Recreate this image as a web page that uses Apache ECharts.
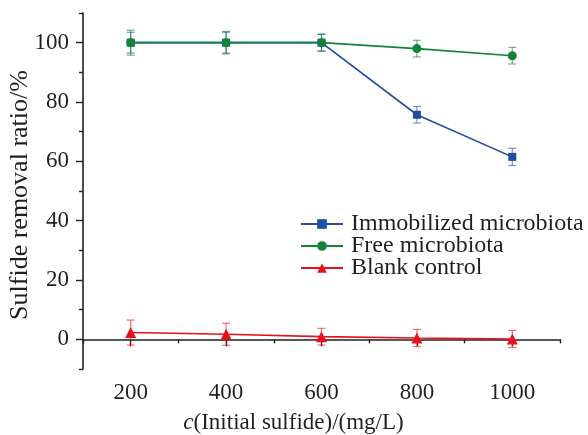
<!DOCTYPE html>
<html>
<head>
<meta charset="utf-8">
<script src="https://cdn.jsdelivr.net/npm/echarts@6/dist/echarts.min.js"></script>
<style>
    html, body { margin: 0; padding: 0; background: #fff; }
    #chart { width: 588px; height: 435px; }
</style>
</head>
<body>
<div id="chart"></div>
<script>
    // initial sulfide concentration (mg/L)
    var concentrations = [200, 400, 600, 800, 1000];
    var immobilized = [100, 100, 100, 75.7, 61.5];
    var immobilizedErr = [3.5, 3.5, 2.8, 2.8, 2.9];
    var free = [100, 100, 100, 98, 95.6];
    var freeErr = [4.2, 3.8, 2.9, 2.8, 2.8];
    var blank = [2.3, 1.7, 0.9, 0.45, 0.1];
    var blankErr = [4.2, 3.7, 2.8, 2.9, 2.9];

    var xMajor = [200, 400, 600, 800, 1000];
    var xMinor = [100, 300, 500, 700, 900, 1100];
    var yMajor = [0, 20, 40, 60, 80, 100];
    var yMinor = [-10, 10, 30, 50, 70, 90, 110];

    var FONT = '"Liberation Serif", "DejaVu Serif", serif';
    var INK = '#231f20';

    function pairs(ys) {
        return concentrations.map(function (x, i) { return [x, ys[i]]; });
    }
    function errData(ys, es) {
        return concentrations.map(function (x, i) { return [x, ys[i], es[i]]; });
    }

    // vertical error bar with caps
    function errorBar(color) {
        return function (params, api) {
            var x = api.value(0), y = api.value(1), e = api.value(2);
            var hi = api.coord([x, y + e]);
            var lo = api.coord([x, y - e]);
            var cap = 4;
            var style = { stroke: color, lineWidth: 1.2, opacity: 0.6 };
            return {
                type: 'group',
                children: [
                    { type: 'line', shape: { x1: hi[0], y1: hi[1], x2: lo[0], y2: lo[1] }, style: style },
                    { type: 'line', shape: { x1: hi[0] - cap, y1: hi[1], x2: hi[0] + cap, y2: hi[1] }, style: style },
                    { type: 'line', shape: { x1: lo[0] - cap, y1: lo[1], x2: lo[0] + cap, y2: lo[1] }, style: style }
                ]
            };
        };
    }

    var blue = '#1f4ea0', green = '#13823a', red = '#e8101c';

    var chart = echarts.init(document.getElementById('chart'));
    var axisLine = { show: true, lineStyle: { color: INK, width: 1.6 } };
    var plain = function (v) { return String(v); };

    var option = {
        animation: false,
        textStyle: { fontFamily: FONT },
        grid: { left: 83, right: 28, top: 13, bottom: 66, containLabel: false, outerBoundsMode: 'none' },
        legend: {
            left: 300,
            top: 212,
            padding: 0,
            orient: 'vertical',
            itemWidth: 42,
            itemHeight: 12,
            itemGap: -2,
            data: ['Immobilized microbiota', 'Free microbiota', 'Blank control'],
            textStyle: { fontFamily: FONT, fontSize: 24, lineHeight: 22, color: INK, padding: [0, 0, 0, 3] }
        },
        xAxis: [
            {
                type: 'value', min: 100, max: 1100, interval: 100,
                name: '{i|c}(Initial sulfide)/(mg/L)',
                nameLocation: 'middle', nameGap: 42, nameMoveOverlap: false,
                nameTextStyle: {
                    fontFamily: FONT, fontSize: 23, color: INK, padding: [0, 56, 0, 0],
                    rich: { i: { fontFamily: FONT, fontSize: 23, fontStyle: 'italic', color: INK } }
                },
                axisLine: axisLine,
                axisTick: { show: true, length: 7, customValues: xMajor, lineStyle: { color: INK, width: 1.4 } },
                axisLabel: { customValues: xMajor, formatter: plain, margin: 12, fontFamily: FONT, fontSize: 23, color: INK },
                splitLine: { show: false }
            },
            {
                type: 'value', min: 100, max: 1100, interval: 100, position: 'bottom',
                axisLine: { show: false },
                axisTick: { show: true, length: 4, customValues: xMinor, lineStyle: { color: INK, width: 1.4 } },
                axisLabel: { show: false },
                splitLine: { show: false }
            }
        ],
        yAxis: [
            {
                type: 'value', min: -10, max: 110, interval: 10,
                name: 'Sulfide removal ratio/%',
                nameLocation: 'middle', nameGap: 50, nameMoveOverlap: false,
                nameTextStyle: { fontFamily: FONT, fontSize: 26, color: INK, padding: [0, 8, 0, 0] },
                axisLine: axisLine,
                axisTick: { show: true, length: 7, customValues: yMajor, lineStyle: { color: INK, width: 1.4 } },
                axisLabel: { customValues: yMajor, formatter: plain, margin: 14, fontFamily: FONT, fontSize: 23, color: INK },
                splitLine: { show: false }
            },
            {
                type: 'value', min: -10, max: 110, interval: 10, position: 'left',
                axisLine: { show: false },
                axisTick: { show: true, length: 4, customValues: yMinor, lineStyle: { color: INK, width: 1.4 } },
                axisLabel: { show: false },
                splitLine: { show: false }
            }
        ],
        series: [
            { name: 'Immobilized microbiota err', type: 'custom', renderItem: errorBar(blue), data: errData(immobilized, immobilizedErr), z: 1 },
            { name: 'Free microbiota err', type: 'custom', renderItem: errorBar(green), data: errData(free, freeErr), z: 1 },
            { name: 'Blank control err', type: 'custom', renderItem: errorBar(red), data: errData(blank, blankErr), z: 1 },
            {
                name: 'Immobilized microbiota', type: 'line', data: pairs(immobilized),
                symbol: 'rect', symbolSize: 8, color: blue,
                lineStyle: { width: 1.6, color: blue }, itemStyle: { color: blue }, z: 3
            },
            {
                name: 'Free microbiota', type: 'line', data: pairs(free),
                symbol: 'circle', symbolSize: 9, color: green,
                lineStyle: { width: 1.6, color: green }, itemStyle: { color: green }, z: 4
            },
            {
                name: 'Blank control', type: 'line', data: pairs(blank),
                symbol: 'triangle', symbolSize: 11, color: red,
                lineStyle: { width: 1.6, color: red }, itemStyle: { color: red }, z: 3
            }
        ]
    };
    chart.setOption(option);
</script>
</body>
</html>
